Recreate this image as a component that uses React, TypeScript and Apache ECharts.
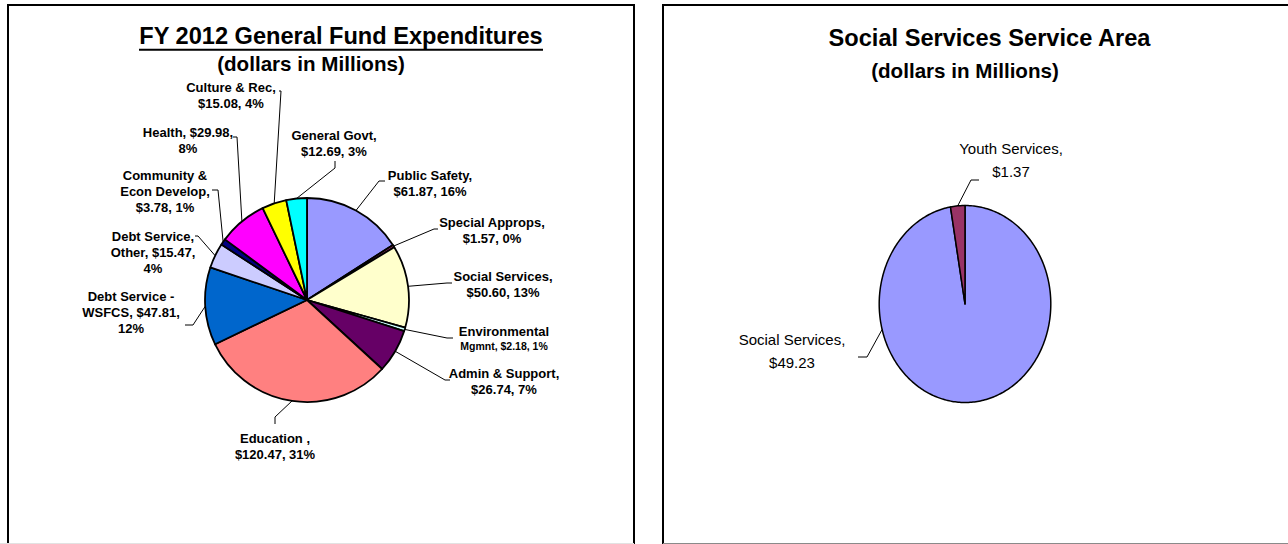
import React, { useEffect, useRef } from "react";
import * as echarts from "echarts";

// ---------------- data: left chart ----------------
const leftCategories = [
  "Public Safety",
  "Special Approps",
  "Social Services",
  "Environmental Mgmnt",
  "Admin & Support",
  "Education ",
  "Debt Service - WSFCS",
  "Debt Service, Other",
  "Community & Econ Develop",
  "Health",
  "Culture & Rec",
  "General Govt",
];
const leftValues = [61.87, 1.57, 50.6, 2.18, 26.74, 120.47, 47.81, 15.47, 3.78, 29.98, 15.08, 12.69];
const leftColors = [
  "#9999FF", "#993366", "#FFFFCC", "#CCFFFF", "#660066", "#FF8080",
  "#0066CC", "#CCCCFF", "#000080", "#FF00FF", "#FFFF00", "#00FFFF",
];
// words per label line
const leftLabelWrap = [[2, 2], [2, 2], [2, 2], [1, 3], [3, 2], [2, 2], [3, 2, 1], [2, 2, 1], [2, 2, 2], [2, 1], [3, 2], [2, 2]];
const leftSmallLine = [-1, -1, -1, 1, -1, -1, -1, -1, -1, -1, -1, -1];
// label block centres (layout)
const leftLabelCenters = [
  [430, 183.5], [492, 230.5], [503, 284], [504, 337.5], [504, 381.5], [275, 446.5],
  [131, 312], [153, 252], [165, 191.5], [188, 140.5], [231, 95.5], [334, 143],
];
// leader elbow + end (layout)
const leftLeaderBends = [
  [[379, 181], [385, 181]],
  [[434, 229], [438, 229]],
  [[447, 283], [452, 283]],
  [[447, 338], [453, 338]],
  [[445, 380], [450, 380]],
  [[275, 417], [275, 424]],
  [[193, 325], [185, 325]],
  [[198, 236], [195, 236]],
  [[218, 190], [212, 190]],
  [[237, 137], [233, 137]],
  [[281, 91], [279, 91]],
  [[335, 168], [335, 161]],
];

// ---------------- data: right chart ----------------
const rightCategories = ["Social Services", "Youth Services"];
const rightValues = [49.23, 1.37];
const rightColors = ["#9999FF", "#993366"];
const rightLabelCenters = [[792, 351], [1011, 160]];
const rightLeaderAnchorDeg = [255, null];
const rightLeaderBends = [
  [[867, 357], [858, 357]],
  [[971, 180], [979, 180]],
];

// ---------------- layout ----------------
const FONT = '"Liberation Sans", Arial, Helvetica, sans-serif';
const LEFT_PIE = { cx: 307, cy: 300, r: 102 };
const RIGHT_PIE = { cx: 965, cy: 304, rx: 85.8, ry: 98.5 };

const leftTotal = leftValues.reduce((s, v) => s + v, 0);
const rightTotal = rightValues.reduce((s, v) => s + v, 0);

function leftLabelText(i: number): string {
  const v = leftValues[i];
  const pct = Math.round((v / leftTotal) * 100);
  const words = `${leftCategories[i]}, $${v.toFixed(2)}, ${pct}%`.split(" ");
  const lines: string[] = [];
  let k = 0;
  leftLabelWrap[i].forEach((n, li) => {
    const line = words.slice(k, k + n).join(" ");
    k += n;
    lines.push(leftSmallLine[i] === li ? `{s|${line}}` : line);
  });
  return lines.join("\n");
}

function titleText(text: string, x: number, y: number, size: number) {
  return {
    type: "text",
    x,
    y,
    silent: true,
    style: {
      text,
      fill: "#000",
      fontFamily: FONT,
      fontSize: size,
      fontWeight: "bold",
      textAlign: "center",
      textVerticalAlign: "middle",
      align: "center",
      verticalAlign: "middle",
    },
  };
}

export default function App() {
  const ref = useRef<HTMLDivElement>(null);

  useEffect(() => {
    if (!ref.current) return;
    const chart = echarts.init(ref.current, null, { renderer: "svg" });

    const option: any = {
      animation: false,
      backgroundColor: "#fff",
      graphic: [
        {
          type: "rect",
          silent: true,
          shape: { x: 8, y: 5, width: 626, height: 545 },
          style: { fill: "none", stroke: "#000", lineWidth: 2 },
        },
        {
          type: "rect",
          silent: true,
          shape: { x: 663, y: 5, width: 640, height: 545 },
          style: { fill: "none", stroke: "#000", lineWidth: 2 },
        },
        {
          type: "line",
          silent: true,
          shape: { x1: 0, y1: 543.5, x2: 634, y2: 543.5 },
          style: { stroke: "#e2e2e2", lineWidth: 1 },
        },
        {
          type: "line",
          silent: true,
          shape: { x1: 663, y1: 543.5, x2: 1288, y2: 543.5 },
          style: { stroke: "#8a8a8a", lineWidth: 1 },
        },
        titleText("FY 2012 General Fund Expenditures", 341, 35.8, 23.6),
        {
          type: "line",
          silent: true,
          shape: { x1: 139, y1: 49.7, x2: 543, y2: 49.7 },
          style: { stroke: "#000", lineWidth: 2 },
        },
        titleText("(dollars in Millions)", 311, 63.6, 20.6),
        titleText("Social Services Service Area", 989.5, 37.5, 23.6),
        titleText("(dollars in Millions)", 965, 70.9, 20.6),
      ],
      series: [
        {
          type: "pie",
          silent: true,
          left: 0,
          top: 0,
          right: 0,
          bottom: 0,
          center: [LEFT_PIE.cx, LEFT_PIE.cy],
          radius: LEFT_PIE.r,
          startAngle: 90,
          clockwise: true,
          avoidLabelOverlap: false,
          emphasis: { disabled: true, scale: false },
          data: leftCategories.map((name, i) => ({
            name,
            value: leftValues[i],
            itemStyle: { color: leftColors[i] },
          })),
          itemStyle: { borderColor: "#000", borderWidth: 1.8 },
          label: {
            show: true,
            position: "outside",
            color: "#000",
            fontFamily: FONT,
            fontSize: 13,
            fontWeight: "bold",
            lineHeight: 16,
            overflow: "none",
            formatter: (p: any) => leftLabelText(p.dataIndex),
            rich: {
              s: {
                fontFamily: FONT,
                fontSize: 10.5,
                fontWeight: "bold",
                lineHeight: 13,
                color: "#000",
                align: "center",
              },
            },
          },
          labelLine: {
            show: true,
            length: 10,
            length2: 10,
            smooth: false,
            lineStyle: { color: "#000", width: 1 },
          },
          labelLayout: (params: any) => {
            const i = params.dataIndex;
            let p0: number[];
            if (params.labelLinePoints && params.labelLinePoints[0]) {
              p0 = params.labelLinePoints[0];
            } else {
              let before = 0;
              for (let j = 0; j < i; j++) before += leftValues[j];
              const a = ((before + leftValues[i] / 2) / leftTotal) * Math.PI * 2;
              p0 = [LEFT_PIE.cx + LEFT_PIE.r * Math.sin(a), LEFT_PIE.cy - LEFT_PIE.r * Math.cos(a)];
            }
            return {
              x: leftLabelCenters[i][0],
              y: leftLabelCenters[i][1],
              align: "center",
              verticalAlign: "middle",
              labelLinePoints: [p0, ...leftLeaderBends[i]],
            };
          },
        },
        {
          type: "custom",
          coordinateSystem: "none",
          silent: true,
          data: rightCategories.map((name, i) => ({ name, value: [rightValues[i]] })),
          renderItem: (params: any, api: any) => {
            const i = params.dataIndex;
            const v = api.value(0) as number;
            let before = 0;
            for (let j = 0; j < i; j++) before += rightValues[j];
            const a0 = (before / rightTotal) * Math.PI * 2;
            const a1 = ((before + v) / rightTotal) * Math.PI * 2;
            const pt = (a: number) => [
              RIGHT_PIE.cx + RIGHT_PIE.rx * Math.sin(a),
              RIGHT_PIE.cy - RIGHT_PIE.ry * Math.cos(a),
            ];
            const n = Math.max(2, Math.ceil((a1 - a0) / (Math.PI / 180)));
            const pts: number[][] = [[RIGHT_PIE.cx, RIGHT_PIE.cy]];
            for (let k = 0; k <= n; k++) pts.push(pt(a0 + ((a1 - a0) * k) / n));
            const anchorDeg = rightLeaderAnchorDeg[i];
            const anchor = pt(anchorDeg == null ? (a0 + a1) / 2 : (anchorDeg * Math.PI) / 180);
            const [lx, ly] = rightLabelCenters[i];
            return {
              type: "group",
              children: [
                {
                  type: "polygon",
                  shape: { points: pts },
                  style: { fill: rightColors[i], stroke: "#000", lineWidth: 1.5, lineJoin: "round" },
                },
                {
                  type: "polyline",
                  shape: { points: [anchor, ...rightLeaderBends[i]] },
                  style: { fill: "none", stroke: "#000", lineWidth: 1 },
                },
                {
                  type: "text",
                  x: lx,
                  y: ly,
                  style: {
                    text: `${rightCategories[i]},\n$${v.toFixed(2)}`,
                    fill: "#000",
                    fontFamily: FONT,
                    fontSize: 15,
                    lineHeight: 23,
                    textAlign: "center",
                    textVerticalAlign: "middle",
                    align: "center",
                    verticalAlign: "middle",
                  },
                },
              ],
            };
          },
        },
      ],
    };

    chart.setOption(option);
    return () => chart.dispose();
  }, []);

  return (
    <div
      ref={ref}
      style={{ position: "absolute", left: 0, top: 0, width: 1288, height: 544, background: "#fff" }}
    />
  );
}
